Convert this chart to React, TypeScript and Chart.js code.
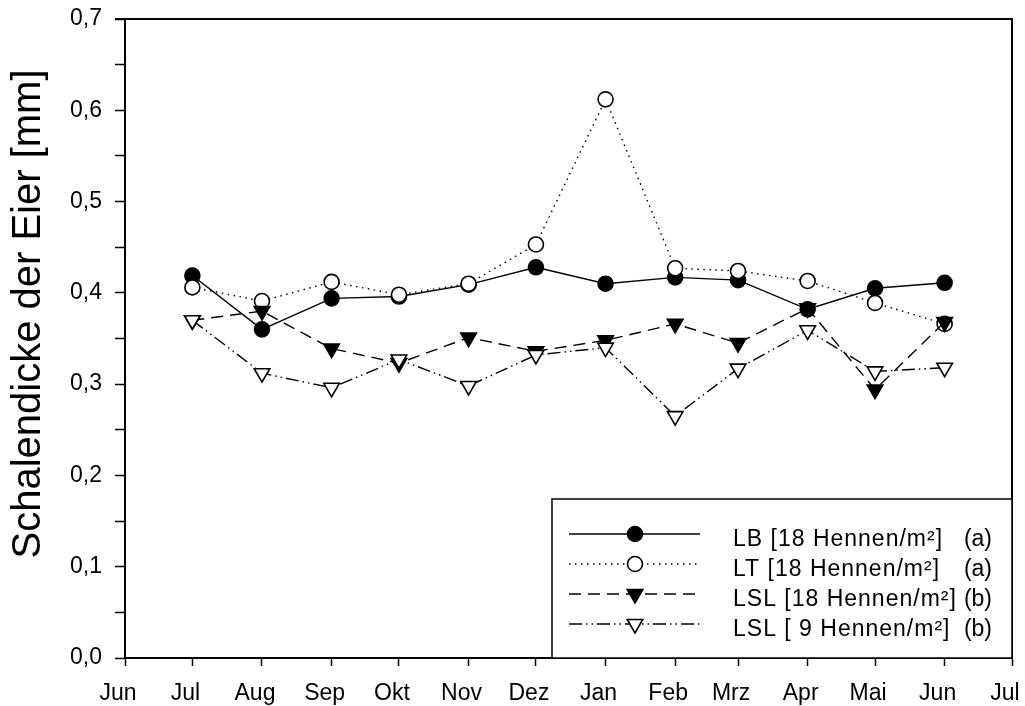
import React, { useEffect, useRef } from 'react';
import { Chart, registerables } from 'chart.js';
import { drawPoint } from 'chart.js/helpers';

Chart.register(...registerables);

// Month boundaries used for the x axis (ticks)
const monthStarts = [
  '2006-06-01', '2006-07-01', '2006-08-01', '2006-09-01', '2006-10-01', '2006-11-01', '2006-12-01',
  '2007-01-01', '2007-02-01', '2007-03-01', '2007-04-01', '2007-05-01', '2007-06-01', '2007-07-01',
];
const tickLabels = ['Jun', 'Jul', 'Aug', 'Sep', 'Okt', 'Nov', 'Dez', 'Jan', 'Feb', 'Mrz', 'Apr', 'Mai', 'Jun', 'Jul'];

// Sampling dates
const sampleDates = [
  '2006-07-01', '2006-08-01', '2006-09-01', '2006-10-01', '2006-11-01', '2006-12-01',
  '2007-01-01', '2007-02-01', '2007-03-01', '2007-04-01', '2007-05-01', '2007-06-01',
];

// Series values (mm)
const lbValues = [0.419, 0.360, 0.394, 0.396, 0.409, 0.428, 0.410, 0.417, 0.414, 0.382, 0.405, 0.411];
const ltValues = [0.406, 0.391, 0.412, 0.398, 0.410, 0.453, 0.612, 0.427, 0.424, 0.413, 0.389, 0.366];
const lsl18Values = [0.370, 0.380, 0.339, 0.323, 0.351, 0.336, 0.348, 0.366, 0.345, 0.383, 0.294, 0.368];
const lsl9Values = [0.370, 0.312, 0.296, 0.327, 0.298, 0.332, 0.340, 0.265, 0.317, 0.359, 0.314, 0.318];

const legendNames = ['LB [18 Hennen/m²]', 'LT [18 Hennen/m²]', 'LSL [18 Hennen/m²]', 'LSL [ 9 Hennen/m²]'];
const legendGroups = ['(a)', '(a)', '(b)', '(b)'];

const yTitle = 'Schalendicke der Eier [mm]';

const FONT = "'Liberation Sans', Arial, sans-serif";

const dayMs = 86400000;
const origin = Date.parse(monthStarts[0]);
const toDay = (s: string) => Math.round((Date.parse(s) - origin) / dayMs);
const tickDays = monthStarts.map(toDay);
const sampleDays = sampleDates.map(toDay);
const toPoints = (vals: number[]) => vals.map((v, i) => ({ x: sampleDays[i], y: v }));

const decorPlugin = {
  id: 'decor',
  afterDraw(chart: any) {
    const ctx = chart.ctx as CanvasRenderingContext2D;
    const { left, right, top, bottom } = chart.chartArea;
    ctx.save();
    // top & right frame
    ctx.strokeStyle = '#000';
    ctx.lineWidth = 2;
    ctx.setLineDash([]);
    ctx.beginPath();
    ctx.moveTo(left - 10, top);
    ctx.lineTo(right, top);
    ctx.lineTo(right, bottom);
    ctx.stroke();

    // legend box
    const bx = 552, by = 499;
    ctx.fillStyle = '#fff';
    ctx.fillRect(bx, by, right - bx, bottom - by);
    ctx.lineWidth = 1.5;
    ctx.strokeRect(bx, by, right - bx, bottom - by);

    const rowsY = [534, 564, 594, 624];
    chart.data.datasets.forEach((ds: any, i: number) => {
      const y = rowsY[i];
      ctx.save();
      ctx.strokeStyle = '#000';
      ctx.lineWidth = ds.borderWidth;
      ctx.setLineDash(ds.borderDash || []);
      ctx.beginPath();
      ctx.moveTo(569, y);
      ctx.lineTo(700, y);
      ctx.stroke();
      ctx.setLineDash([]);
      ctx.fillStyle = ds.pointBackgroundColor;
      ctx.strokeStyle = ds.pointBorderColor;
      ctx.lineWidth = ds.pointBorderWidth;
      drawPoint(ctx, {
        pointStyle: ds.pointStyle,
        rotation: ds.pointRotation || 0,
        radius: ds.pointRadius,
        borderWidth: ds.pointBorderWidth,
      } as any, 635, y);
      ctx.restore();

      ctx.fillStyle = '#000';
      ctx.font = `23px ${FONT}`;
      ctx.textBaseline = 'alphabetic';
      (ctx as any).letterSpacing = '1px';
      ctx.textAlign = 'left';
      ctx.fillText(legendNames[i], 733, y + 12);
      (ctx as any).letterSpacing = '0px';
      ctx.textAlign = 'right';
      ctx.fillText(legendGroups[i], 992, y + 12);
    });

    // y axis title
    ctx.save();
    ctx.translate(40, 314);
    ctx.rotate(-Math.PI / 2);
    ctx.fillStyle = '#000';
    ctx.font = `40px ${FONT}`;
    ctx.textAlign = 'center';
    ctx.textBaseline = 'alphabetic';
    ctx.fillText(yTitle, 0, 0);
    ctx.restore();

    ctx.restore();
  },
};

export default function App() {
  const ref = useRef<HTMLCanvasElement | null>(null);

  useEffect(() => {
    if (!ref.current) return;
    const common = {
      showLine: true,
      fill: false,
      tension: 0,
      borderColor: '#000',
      borderWidth: 1.4,
      pointBorderColor: '#000',
      pointBorderWidth: 1.6,
    };
    const chart = new Chart(ref.current, {
      type: 'line',
      data: {
        datasets: [
          {
            ...common,
            label: legendNames[0],
            data: toPoints(lbValues),
            borderDash: [],
            pointStyle: 'circle',
            pointRadius: 7.5,
            pointBackgroundColor: '#000',
            order: 4,
          },
          {
            ...common,
            label: legendNames[1],
            data: toPoints(ltValues),
            borderDash: [1.5, 4.5],
            pointStyle: 'circle',
            pointRadius: 7.5,
            pointBackgroundColor: '#fff',
            order: 3,
          },
          {
            ...common,
            label: legendNames[2],
            data: toPoints(lsl18Values),
            borderDash: [12, 7],
            pointStyle: 'triangle',
            pointRotation: 180,
            pointRadius: 9,
            pointBackgroundColor: '#000',
            order: 2,
          },
          {
            ...common,
            label: legendNames[3],
            data: toPoints(lsl9Values),
            borderDash: [13, 4, 1.5, 4, 1.5, 4],
            pointStyle: 'triangle',
            pointRotation: 180,
            pointRadius: 9,
            pointBackgroundColor: '#fff',
            order: 1,
          },
        ] as any,
      },
      options: {
        animation: false,
        responsive: false,
        devicePixelRatio: 1,
        layout: { padding: { top: 19, right: 13, left: 0, bottom: 0 } },
        plugins: {
          legend: { display: false },
          tooltip: { enabled: false },
          title: { display: false },
        },
        scales: {
          x: {
            type: 'linear',
            position: 'bottom',
            min: tickDays[0],
            max: tickDays[tickDays.length - 1],
            afterBuildTicks: (scale: any) => {
              scale.ticks = tickDays.map((v) => ({ value: v }));
            },
            afterFit: (scale: any) => {
              scale.height = 48;
              scale.paddingLeft = 0;
              scale.paddingRight = 0;
            },
            ticks: {
              autoSkip: false,
              maxRotation: 0,
              labelOffset: -7,
              padding: 14,
              color: '#000',
              font: { family: FONT, size: 23 },
              callback: (_v: any, i: number) => tickLabels[i],
            },
            grid: {
              drawOnChartArea: false,
              drawTicks: true,
              tickLength: 8,
              tickColor: '#000',
              tickWidth: 1.5,
            },
            border: { display: true, color: '#000', width: 2 },
          },
          y: {
            type: 'linear',
            min: 0,
            max: 0.7,
            afterFit: (scale: any) => {
              scale.width = 125;
              scale.paddingTop = 0;
              scale.paddingBottom = 0;
            },
            ticks: {
              stepSize: 0.05,
              autoSkip: false,
              padding: 13,
              color: '#000',
              font: { family: FONT, size: 23 },
              callback: (v: any) => {
                const k = Math.round(Number(v) * 100);
                return k % 10 === 0 ? (k / 100).toFixed(1).replace('.', ',') : '';
              },
            },
            grid: {
              drawOnChartArea: false,
              drawTicks: true,
              tickLength: 10,
              tickColor: '#000',
              tickWidth: 1.5,
            },
            border: { display: true, color: '#000', width: 2 },
          },
        },
      } as any,
      plugins: [decorPlugin],
    });
    return () => chart.destroy();
  }, []);

  return (
    <div style={{ position: 'absolute', left: 0, top: 0, width: 1025, height: 706, background: '#fff' }}>
      <canvas ref={ref} width={1025} height={706} />
    </div>
  );
}
